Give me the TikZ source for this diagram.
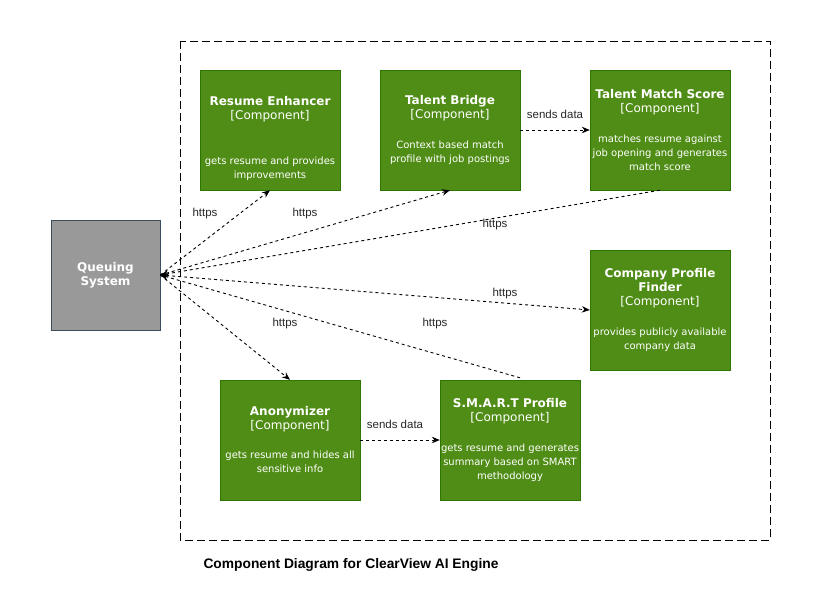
\documentclass[tikz,border=0pt]{standalone}
\usepackage{fontspec}
\setmainfont{Liberation Sans}
\newfontfamily\compfont{DejaVu Sans}
\usetikzlibrary{arrows.meta}
\definecolor{compgreen}{RGB}{80,141,22}
\definecolor{compline}{RGB}{45,118,0}
\definecolor{extgray}{RGB}{153,153,153}
\definecolor{extline}{RGB}{60,77,94}
\begin{document}
\begin{tikzpicture}[x=1pt, y=-1pt,
    component/.style={draw=compline, fill=compgreen, text=white, align=center,
        minimum width=140pt, minimum height=120pt, inner sep=0pt,
        font=\compfont\fontsize{10}{14}\selectfont},
    comptext/.style={text=white, align=center, inner sep=0pt,
        font=\compfont\fontsize{10}{14}\selectfont},
    external/.style={draw=extline, fill=extgray, text=white, align=center,
        minimum width=109pt, minimum height=110pt, inner sep=0pt,
        font=\compfont\bfseries\fontsize{12}{14}\selectfont},
    flow/.style={dash pattern=on 3pt off 3pt, line width=0.9pt, -{Stealth[length=8pt,width=6.5pt]}},
    lbl/.style={font=\fontsize{11.5}{13}\selectfont, text=black!85}]
    \useasboundingbox (0,0) rectangle (840,610);

    % Systemgrenze
    \draw[dash pattern=on 8pt off 4pt] (180,41) rectangle (770,540);
    \node[anchor=west, font=\bfseries\fontsize{13.8}{16}\selectfont] (title) at (200,565)
        {Component Diagram for ClearView AI Engine};

    % Queuing System
    \node[external] (queue) at (105.5,275) {Queuing\\System};

    % Komponenten
    \node[component] (enh) at (270,130) {};
    \node[comptext] (enh-text) at ([yshift=-8pt]enh.center) {
        {\bfseries\fontsize{12}{14}\selectfont Resume Enhancer}\\
        {\fontsize{12}{14}\selectfont [Component]}\\[31pt]
        gets resume and provides\\ improvements};
    \node[component] (bridge) at (450,130) {
        {\bfseries\fontsize{12}{14}\selectfont Talent Bridge}\\
        {\fontsize{12}{14}\selectfont [Component]}\\[16pt]
        Context based match\\ profile with job postings};
    \node[component] (match) at (660,130) {
        {\bfseries\fontsize{12}{14}\selectfont Talent Match Score}\\
        {\fontsize{12}{14}\selectfont [Component]}\\[16pt]
        matches resume against\\ job opening and generates\\ match score};
    \node[component] (company) at (660,310) {
        {\bfseries\fontsize{12}{15}\selectfont Company Profile}\\
        {\bfseries\fontsize{12}{14}\selectfont Finder}\\
        {\fontsize{12}{14}\selectfont [Component]}\\[16pt]
        provides publicly available\\ company data};
    \node[component] (anon) at (290,440) {
        {\bfseries\fontsize{12}{14}\selectfont Anonymizer}\\
        {\fontsize{12}{14}\selectfont [Component]}\\[15pt]
        gets resume and hides all\\ sensitive info};
    \node[component] (smart) at (510,440) {
        {\bfseries\fontsize{12}{14}\selectfont S.M.A.R.T Profile}\\
        {\fontsize{12}{14}\selectfont [Component]}\\[16pt]
        gets resume and generates\\ summary based on SMART\\ methodology};
    \coordinate (smart-out) at ([xshift=10pt, yshift=2pt]smart.north);

    % Verbindungen
    \draw[flow] (queue.east) -- (enh.south);
    \draw[flow] (queue.east) -- (bridge.south);
    \draw[flow] (match.south) -- (queue.east);
    \draw[flow] (queue.east) -- (company.west);
    \draw[flow] (queue.east) -- (anon.north);
    \draw[flow] (smart-out) -- (queue.east);
    \draw[flow] (bridge.east) -- (match.west);
    \draw[flow] (anon.east) -- (smart.west);

    % Beschriftungen
    \node[lbl] (l-enh) at (205,214) {https};
    \node[lbl] (l-bridge) at (305,214) {https};
    \node[lbl] (l-match) at (495,225) {https};
    \node[lbl] (l-company) at (505,294) {https};
    \node[lbl] (l-anon) at (285,324) {https};
    \node[lbl] (l-smart) at (435,324) {https};
    \node[lbl] (l-send1) at (555,114) {sends data};
    \node[lbl] (l-send2) at (395,424) {sends data};
\end{tikzpicture}
\end{document}
